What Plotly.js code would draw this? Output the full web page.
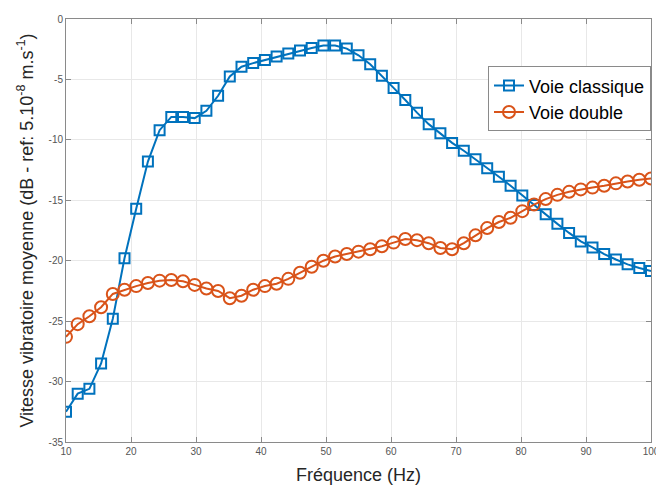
<!DOCTYPE html>
<html>
<head>
<meta charset="utf-8">
<script src="https://cdn.plot.ly/plotly-3.0.1.min.js"></script>
<style>html,body{margin:0;padding:0;background:#fff;}#chart{width:656px;height:485px;}</style>
</head>
<body>
<div id="chart"></div>
<script>
const freqs = [10,11.8,13.6,15.4,17.2,19,20.8,22.6,24.4,26.2,28,29.8,31.6,33.4,35.2,37,38.8,40.6,42.4,44.2,46,47.8,49.6,51.4,53.2,55,56.8,58.6,60.4,62.2,64,65.8,67.6,69.4,71.2,73,74.8,76.6,78.4,80.2,82,83.8,85.6,87.4,89.2,91,92.8,94.6,96.4,98.2,100];
const voieClassique = [-32.5,-31.0,-30.6,-28.5,-24.8,-19.8,-15.7,-11.8,-9.2,-8.1,-8.1,-8.2,-7.6,-6.35,-4.75,-3.95,-3.65,-3.4,-3.1,-2.85,-2.6,-2.4,-2.2,-2.2,-2.45,-3.0,-3.75,-4.7,-5.7,-6.7,-7.75,-8.7,-9.45,-10.25,-10.9,-11.6,-12.35,-13.05,-13.8,-14.6,-15.4,-16.15,-16.95,-17.7,-18.4,-18.9,-19.45,-19.9,-20.3,-20.6,-20.85];
const voieDouble = [-26.3,-25.25,-24.6,-23.85,-22.75,-22.4,-22.1,-21.85,-21.65,-21.6,-21.7,-22.0,-22.3,-22.5,-23.1,-22.9,-22.4,-22.1,-21.9,-21.5,-21.0,-20.5,-20.0,-19.65,-19.45,-19.25,-19.05,-18.8,-18.5,-18.2,-18.3,-18.55,-18.95,-19.05,-18.55,-17.9,-17.3,-16.8,-16.45,-15.9,-15.35,-14.9,-14.55,-14.3,-14.1,-13.95,-13.8,-13.6,-13.45,-13.3,-13.2];
const seriesNames = ["Voie classique","Voie double"];
const xTicks = [10,20,30,40,50,60,70,80,90,100];
const yTicks = [0,-5,-10,-15,-20,-25,-30,-35];

const traces = [
  {x: freqs, y: voieClassique, name: seriesNames[0], type: 'scatter', mode: 'lines+markers',
   line: {color: '#0072BD', width: 2},
   marker: {symbol: 'square-open', size: 10, color: '#0072BD', line: {width: 2, color: '#0072BD'}}},
  {x: freqs, y: voieDouble, name: seriesNames[1], type: 'scatter', mode: 'lines+markers',
   line: {color: '#D95319', width: 2},
   marker: {symbol: 'circle-open', size: 12, color: '#D95319', line: {width: 2, color: '#D95319'}}}
];

const axisCommon = {
  showline: true, mirror: 'ticks', linecolor: '#8a8a8a', linewidth: 1,
  ticks: 'inside', ticklen: 5, tickcolor: '#8a8a8a', tickwidth: 1,
  showgrid: true, gridcolor: '#e8e8e8', gridwidth: 1, zeroline: false,
  ticklabeloverflow: 'allow',
  tickfont: {family: 'Liberation Sans, Arial, sans-serif', size: 10, color: '#555'}
};

const layout = {
  width: 656, height: 485,
  margin: {l: 66, r: 5, t: 19, b: 43},
  paper_bgcolor: '#fff', plot_bgcolor: '#fff',
  showlegend: true,
  legend: {x: 1, xanchor: 'right', y: 0.888, yanchor: 'top',
    bgcolor: '#fff', bordercolor: '#8a8a8a', borderwidth: 1,
    itemwidth: 30,
    font: {family: 'Liberation Sans, Arial, sans-serif', size: 18, color: '#000'},
    tracegroupgap: 0},
  xaxis: Object.assign({}, axisCommon, {
    range: [10, 100], tickvals: xTicks, ticktext: xTicks.map(String),
    title: {text: 'Fréquence (Hz)', standoff: 12,
      font: {family: 'Liberation Sans, Arial, sans-serif', size: 18, color: '#262626'}}
  }),
  yaxis: Object.assign({}, axisCommon, {
    range: [-35, 0], tickvals: yTicks, ticktext: yTicks.map(String),
    title: {text: 'Vitesse vibratoire moyenne (dB - ref: 5.10<sup>-8</sup> m.s<sup>-1</sup>)', standoff: 10,
      font: {family: 'Liberation Sans, Arial, sans-serif', size: 18, color: '#262626'}}
  })
};

Plotly.newPlot('chart', traces, layout, {displayModeBar: false, staticPlot: true});
</script>
</body>
</html>
